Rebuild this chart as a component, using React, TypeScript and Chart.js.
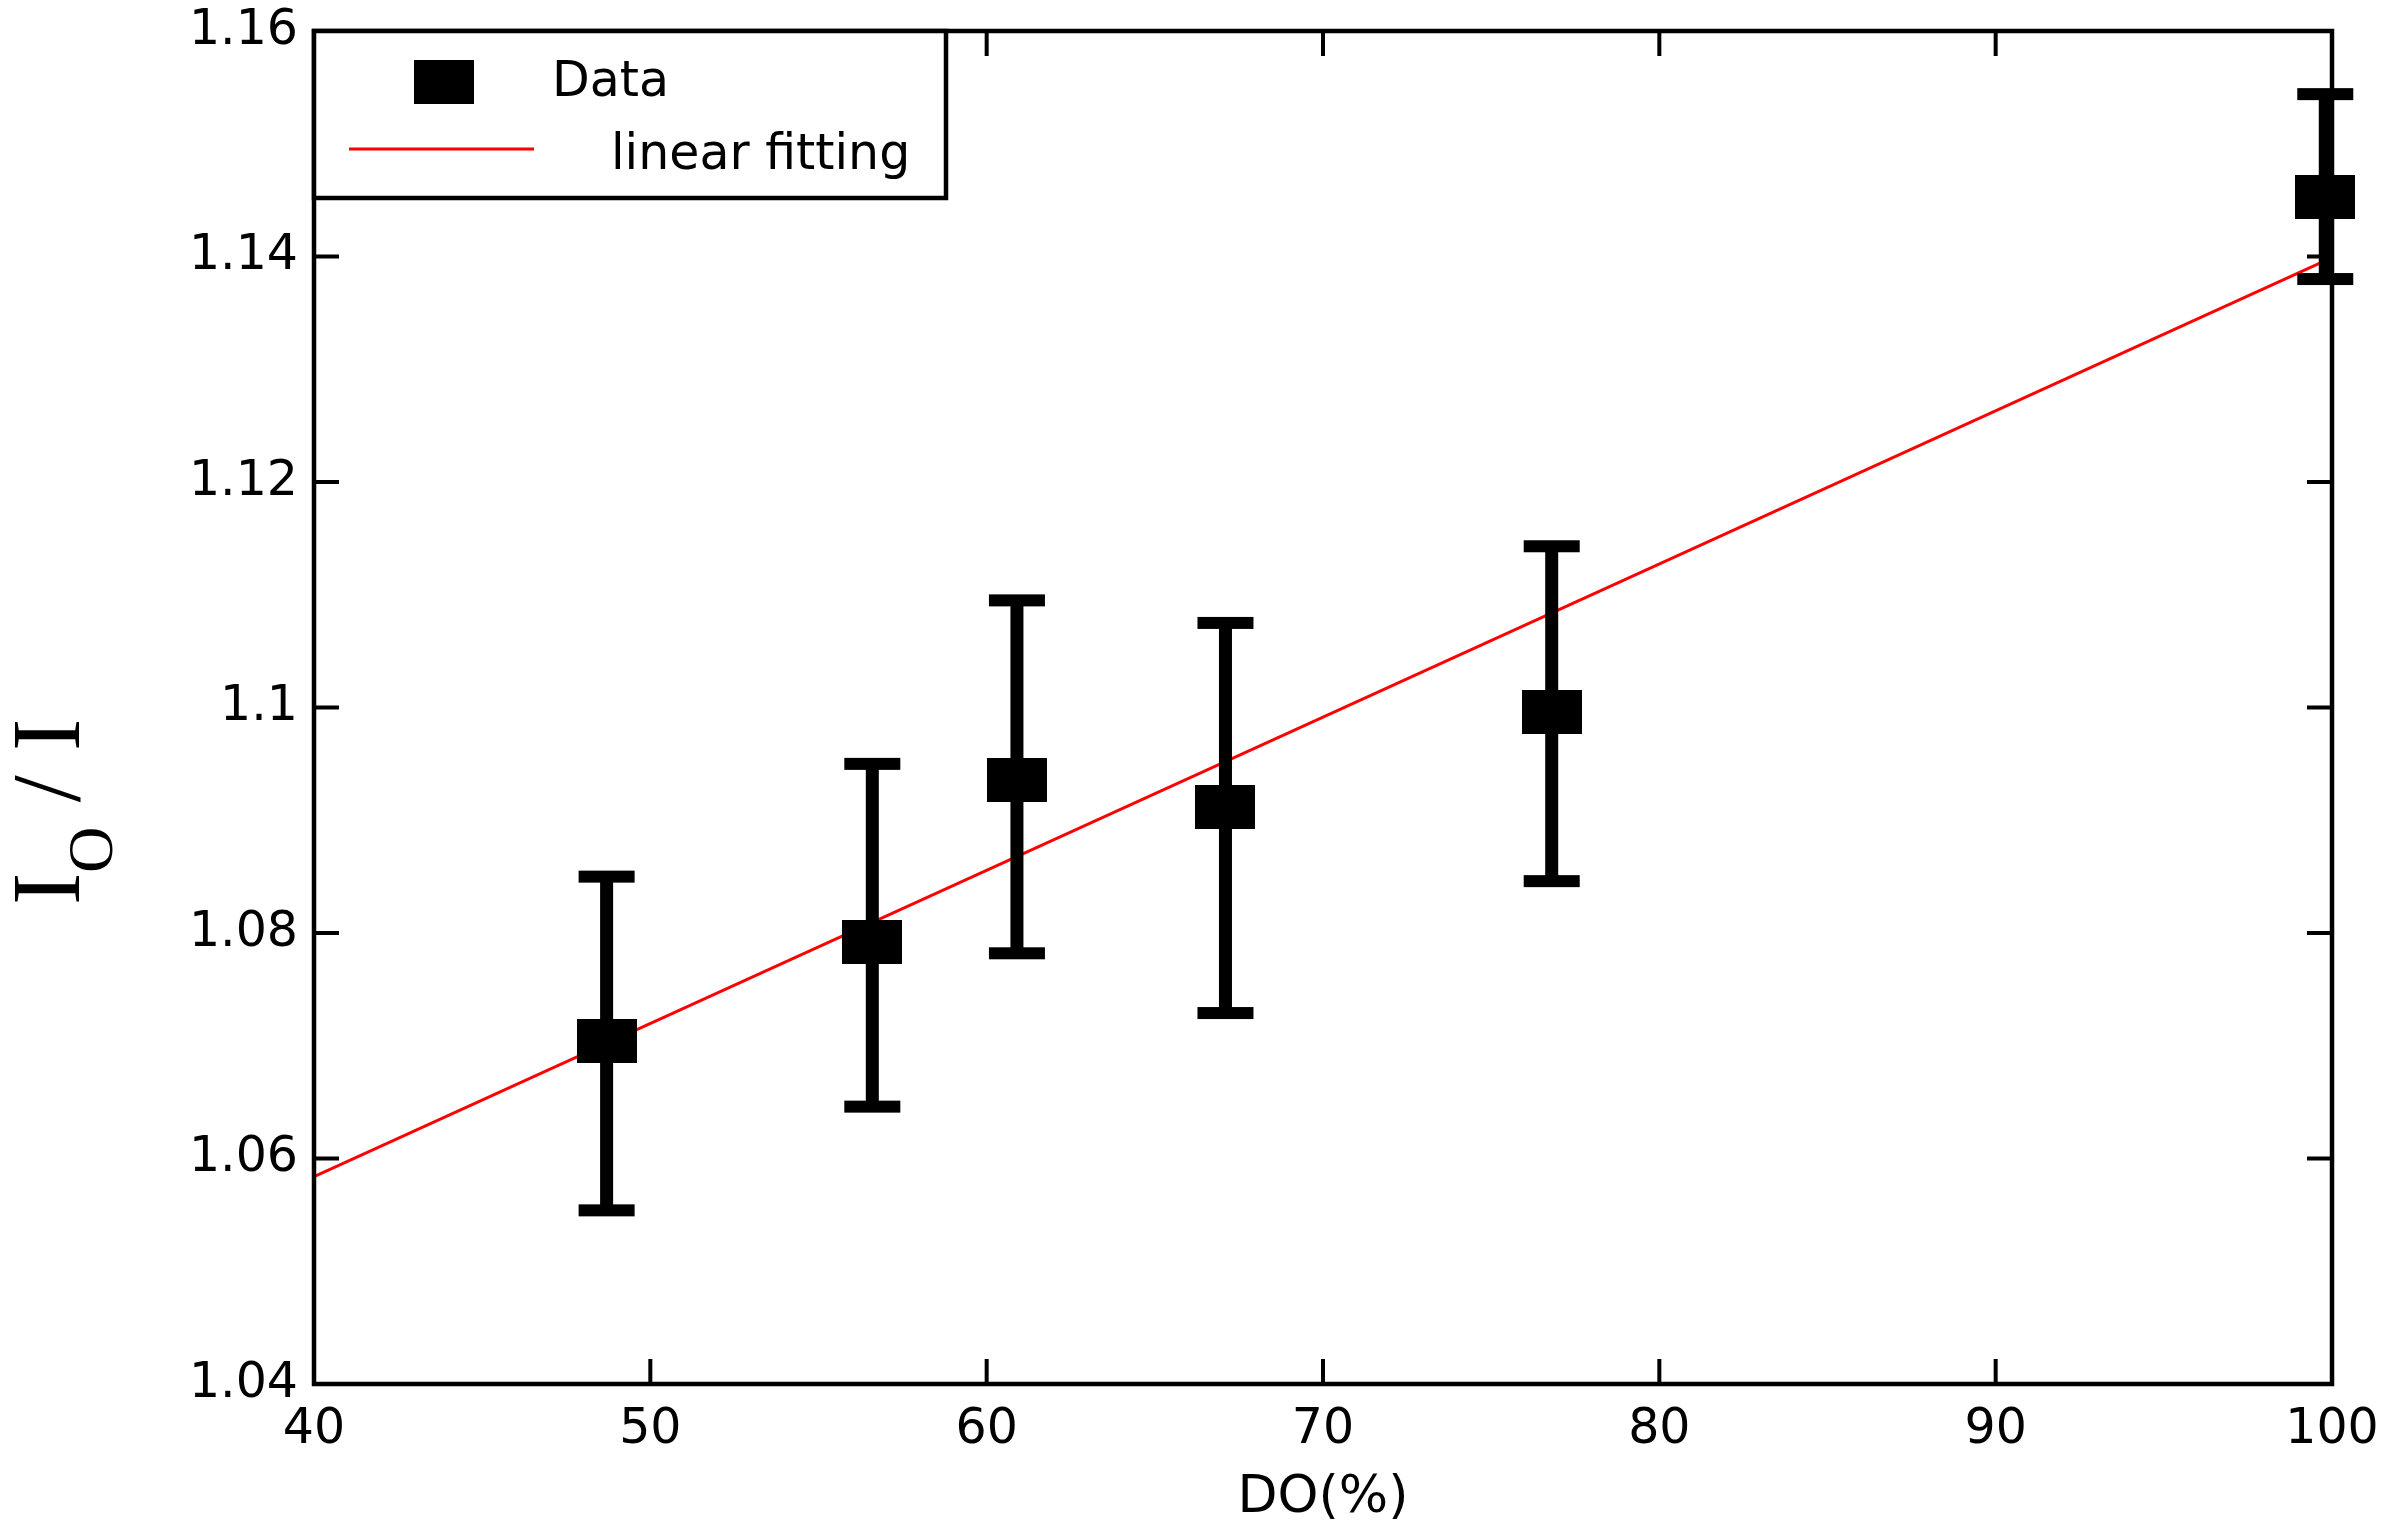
import React, { useEffect, useRef } from "react";
import { Chart, registerables } from "chart.js";

Chart.register(...registerables);

// measured data (DO % vs I0/I)
const doValues = [48.7, 56.6, 60.9, 67.1, 76.8, 99.8];
const ratioValues = [1.0704, 1.0792, 1.0936, 1.0912, 1.0996, 1.1453];
const errUpper = [1.085, 1.095, 1.1095, 1.1075, 1.1143, 1.1544];
const errLower = [1.0554, 1.0646, 1.0782, 1.0729, 1.0846, 1.138];

// linear fit end points
const fitX = [40, 100];
const fitY = [1.0584, 1.1399];

const xTicks = [40, 50, 60, 70, 80, 90, 100];
const yTicks = [1.04, 1.06, 1.08, 1.1, 1.12, 1.14, 1.16];

const seriesLabels = ["Data", "linear fitting"];

const SANS = "'DejaVu Sans', sans-serif";
const SERIF = "'Liberation Serif', 'Times New Roman', serif";

const MW = 60;
const MH = 44;

function makeMarker(): HTMLCanvasElement {
  const c = document.createElement("canvas");
  c.width = MW;
  c.height = MH;
  const g = c.getContext("2d")!;
  g.fillStyle = "#000";
  g.fillRect(0, 0, MW, MH);
  return c;
}

const framePlugin = {
  id: "frame",
  afterDatasetsDraw(chart: Chart) {
    const { ctx, chartArea: a } = chart;
    const xs = chart.scales.x;
    const ys = chart.scales.y;
    ctx.save();

    // frame + inward ticks
    ctx.strokeStyle = "#000";
    ctx.lineWidth = 4.5;
    ctx.strokeRect(a.left, a.top, a.right - a.left, a.bottom - a.top);
    ctx.lineWidth = 4;
    ctx.beginPath();
    for (const t of xTicks) {
      const px = xs.getPixelForValue(t);
      ctx.moveTo(px, a.bottom);
      ctx.lineTo(px, a.bottom - 25);
      ctx.moveTo(px, a.top);
      ctx.lineTo(px, a.top + 25);
    }
    for (const t of yTicks) {
      const py = ys.getPixelForValue(t);
      ctx.moveTo(a.left, py);
      ctx.lineTo(a.left + 25, py);
      ctx.moveTo(a.right, py);
      ctx.lineTo(a.right - 25, py);
    }
    ctx.stroke();

    // error bars
    ctx.fillStyle = "#000";
    doValues.forEach((v, i) => {
      const px = xs.getPixelForValue(v);
      const top = ys.getPixelForValue(errUpper[i]);
      const bot = ys.getPixelForValue(errLower[i]);
      ctx.fillRect(px - 6.5, top, 13, bot - top);
      ctx.fillRect(px - 28, top - 6, 56, 12);
      ctx.fillRect(px - 28, bot - 6, 56, 12);
    });

    // legend
    const lx = a.left;
    const ly = a.top;
    ctx.fillStyle = "#fff";
    ctx.fillRect(lx, ly, 632, 167);
    ctx.lineWidth = 4.5;
    ctx.strokeRect(lx, ly, 632, 167);
    ctx.fillStyle = "#000";
    ctx.fillRect(lx + 130 - MW / 2, ly + 51 - MH / 2, MW, MH);
    ctx.font = `49px ${SANS}`;
    ctx.textBaseline = "alphabetic";
    ctx.textAlign = "left";
    ctx.fillText(seriesLabels[0], lx + 238, ly + 65);
    ctx.strokeStyle = "#ff0000";
    ctx.lineWidth = 3;
    ctx.beginPath();
    ctx.moveTo(lx + 35, ly + 118);
    ctx.lineTo(lx + 220, ly + 118);
    ctx.stroke();
    ctx.fillText(seriesLabels[1], lx + 297, ly + 138);

    // y axis title: I_O / I
    ctx.translate(79, 905);
    ctx.rotate(-Math.PI / 2);
    ctx.fillStyle = "#000";
    ctx.font = `97px ${SERIF}`;
    ctx.fillText("I", 0, 0);
    let u = ctx.measureText("I").width;
    ctx.font = `64px ${SERIF}`;
    ctx.fillText("O", u, 33);
    u += ctx.measureText("O").width;
    ctx.font = `97px ${SERIF}`;
    ctx.fillText(" / I", u, 0);

    ctx.restore();
  },
};

const App: React.FC = () => {
  const canvasRef = useRef<HTMLCanvasElement | null>(null);

  useEffect(() => {
    document.body.style.margin = "0";
    if (!canvasRef.current) return;

    const chart = new Chart(canvasRef.current, {
      type: "scatter",
      data: {
        datasets: [
          {
            label: seriesLabels[0],
            data: doValues.map((x, i) => ({ x, y: ratioValues[i] })),
            pointStyle: makeMarker(),
            pointRadius: 30,
            backgroundColor: "#000",
            borderColor: "#000",
            clip: false,
          },
          {
            type: "line",
            label: seriesLabels[1],
            data: fitX.map((x, i) => ({ x, y: fitY[i] })),
            borderColor: "#ff0000",
            borderWidth: 3,
            pointRadius: 0,
            showLine: true,
            fill: false,
          },
        ],
      },
      options: {
        animation: false,
        responsive: false,
        devicePixelRatio: 1,
        layout: { padding: { top: 25, right: 56, left: 0, bottom: 0 } },
        plugins: { legend: { display: false }, tooltip: { enabled: false } },
        scales: {
          x: {
            type: "linear",
            min: 40,
            max: 100,
            grid: { display: false, drawTicks: false },
            border: { display: false },
            ticks: {
              stepSize: 10,
              padding: 22,
              color: "#000",
              font: { family: SANS, size: 49, lineHeight: 1 },
              maxRotation: 0,
            },
            title: {
              display: true,
              text: "DO(%)",
              color: "#000",
              font: { family: SANS, size: 52, lineHeight: 1 },
              padding: { top: 0, bottom: 0 },
            },
            afterFit(scale: any) {
              scale.height = 140;
              scale.paddingLeft = 0;
              scale.paddingRight = 0;
            },
          },
          y: {
            type: "linear",
            min: 1.04,
            max: 1.16,
            grid: { display: false, drawTicks: false },
            border: { display: false },
            ticks: {
              stepSize: 0.02,
              padding: 16,
              color: "#000",
              font: { family: SANS, size: 49, lineHeight: 1 },
              callback: (v: any) => String(parseFloat(Number(v).toFixed(2))),
            },
            afterFit(scale: any) {
              scale.width = 314;
              scale.paddingTop = 0;
              scale.paddingBottom = 0;
            },
          },
        },
      },
      plugins: [framePlugin],
    });

    return () => {
      chart.destroy();
    };
  }, []);

  return (
    <div style={{ width: 2388, height: 1524, background: "#fff" }}>
      <canvas ref={canvasRef} width={2388} height={1524} style={{ display: "block", width: 2388, height: 1524 }} />
    </div>
  );
};

export default App;
